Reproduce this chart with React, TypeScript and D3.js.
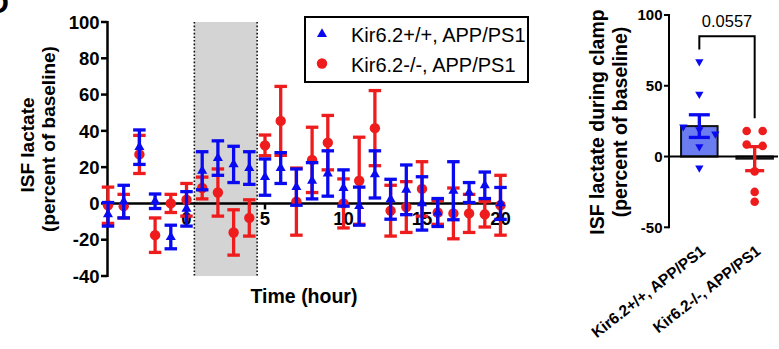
import * as d3 from "d3";

const FONT = "'Liberation Sans', Arial, Helvetica, sans-serif";

// time course (hours relative to clamp start)
const hours = [-5, -4, -3, -2, -1, 0, 1, 2, 3, 4, 5, 6, 7, 8, 9, 10, 11, 12, 13, 14, 15, 16, 17, 18, 19, 20];
const blueMean = [-6, 1, 31, 1.2, -18.5, -3, 18, 25, 21.5, 19.5, 14.5, 19.5, 9, 12.5, 16.5, 8.5, -1.5, 16, 2.3, 7.5, 0, -5, 7, 6, 10, 0];
const blueErr = [6.5, 9, 9.5, 4, 6.5, 9.5, 10.5, 9.5, 10, 9, 10, 8.5, 10, 10, 12.5, 10, 10.5, 13, 11, 13.7, 14.7, 7.7, 16, 5.5, 7.3, 8.8];
const redMean = [-1, -1.5, 27, -17.5, 0, 2, 8.5, 6, -16, -8, 32, 45.5, 1, 24, 33.5, 0, 12.5, 41.5, -4, -2, 8, -5, -5.5, -5.5, -6, -1];
const redErr = [10, 6.5, 10.5, 9.5, 5, 9, 6, 13, 12.5, 10, 5.7, 19, 18.5, 18, 15, 13.5, 24, 20.7, 14, 14, 15, 6.5, 14, 10.5, 7, 16.5];

const yTicksLeft = [-40, -20, 0, 20, 40, 60, 80, 100];
const xTicksLeft = [0, 5, 10, 15, 20];
const clampWindow = [0.5, 4.5];
const groupLabels = ["Kir6.2+/+, APP/PS1", "Kir6.2-/-, APP/PS1"];

// summary during clamp
const groupMeans = [21.5, -1.5];
const groupSems = [8, 8.5];
const bluePoints = [67, 44, 21, 19, 16, 7, -8];
const redPoints = [18, 18, 8.5, 7.5, -10.5, -25, -32];
const yTicksRight = [-50, 0, 50, 100];
const pValue = "0.0557";
const bracketLevels = [75.7, 85, 27]; // left leg end, top, right leg end

const BLUE = "#0a0af0";
const RED = "#ee1c1c";

// spread points with nearly equal values side by side, like a scatter dot plot
function swarm(values: number[], y: (v: number) => number, gap = 9, step = 16) {
  const out: number[] = new Array(values.length).fill(0);
  let start = 0;
  for (let i = 1; i <= values.length; i++) {
    if (i === values.length || Math.abs(y(values[i]) - y(values[i - 1])) >= gap) {
      const n = i - start;
      for (let k = 0; k < n; k++) out[start + k] = (k - (n - 1) / 2) * step;
      start = i;
    }
  }
  return out;
}

function ErrorBar({ x, y0, y1, cap, color, w = 3.3 }: any) {
  return (
    <g stroke={color} strokeWidth={w}>
      <line x1={x} x2={x} y1={y0} y2={y1} />
      <line x1={x - cap / 2} x2={x + cap / 2} y1={y0} y2={y0} />
      <line x1={x - cap / 2} x2={x + cap / 2} y1={y1} y2={y1} />
    </g>
  );
}

export default function App() {
  const W = 779;
  const H = 349;

  // left panel
  const x = d3.scaleLinear().domain([-5, 20]).range([108, 500.5]);
  const y = d3.scaleLinear().domain([-40, 100]).range([276, 22]);
  const tri = d3.symbol(d3.symbolTriangle, 44)()!;
  const triSmall = d3.symbol(d3.symbolTriangle, 30)()!;

  // right panel
  const xb = d3.scaleBand().domain(groupLabels).range([670, 784]).paddingInner(0.34).paddingOuter(0.2);
  const yb = d3.scaleLinear().domain([-50, 100]).range([227.3, 15]);
  const bw = xb.bandwidth();
  const cBlue = xb(groupLabels[0])! + bw / 2;
  const cRed = xb(groupLabels[1])! + bw / 2;
  const blueOff = swarm(bluePoints, yb);
  const redOff = swarm(redPoints, yb);

  return (
    <svg width={W} height={H} style={{ position: "absolute", left: 0, top: 0, background: "#fff" }} fontFamily={FONT}>
      <text x={9} y={13} fontSize={30} fontWeight="bold" textAnchor="end">D</text>

      {/* clamp window */}
      <rect x={x(clampWindow[0])} y={y(100)} width={x(clampWindow[1]) - x(clampWindow[0])} height={y(-40) - y(100)} fill="#d4d4d4" />
      {clampWindow.map((c) => (
        <line key={c} x1={x(c)} x2={x(c)} y1={y(100)} y2={y(-40)} stroke="#111" strokeWidth={1.6} strokeDasharray="1.6 2" />
      ))}

      {/* y axis */}
      <line x1={107.5} x2={107.5} y1={y(100) - 1} y2={y(-40) + 1} stroke="#000" strokeWidth={2.5} />
      {yTicksLeft.map((t) => (
        <g key={t}>
          <line x1={101} x2={107.5} y1={y(t)} y2={y(t)} stroke="#000" strokeWidth={2.5} />
          <text x={99.5} y={y(t)} dy="0.36em" textAnchor="end" fontSize={18.5} fontWeight="bold">{t}</text>
        </g>
      ))}
      <text transform={`translate(27,145) rotate(-90)`} textAnchor="middle" dominantBaseline="central" fontSize={19} fontWeight="bold">ISF lactate</text>
      <text transform={`translate(48,139) rotate(-90)`} textAnchor="middle" dominantBaseline="central" fontSize={19} fontWeight="bold">(percent of baseline)</text>

      {/* x axis on zero line */}
      <line x1={107.5} x2={505} y1={y(0)} y2={y(0)} stroke="#000" strokeWidth={2.5} />
      {xTicksLeft.map((t) => (
        <g key={t}>
          <line x1={x(t)} x2={x(t)} y1={y(0)} y2={y(0) + 6} stroke="#000" strokeWidth={2.5} />
          <text x={x(t)} y={225} textAnchor="middle" fontSize={18.5} fontWeight="bold">{t}</text>
        </g>
      ))}
      <text x={304} y={303} textAnchor="middle" fontSize={19.5} fontWeight="bold">Time (hour)</text>

      {/* red series */}
      {hours.map((h, i) => (
        <g key={"r" + h}>
          <ErrorBar x={x(h)} y0={y(redMean[i] + redErr[i])} y1={y(redMean[i] - redErr[i])} cap={12.5} color={RED} />
          <circle cx={x(h)} cy={y(redMean[i])} r={5.2} fill={RED} />
        </g>
      ))}
      {/* blue series */}
      {hours.map((h, i) => (
        <g key={"b" + h}>
          <ErrorBar x={x(h)} y0={y(blueMean[i] + blueErr[i])} y1={y(blueMean[i] - blueErr[i])} cap={12.5} color={BLUE} />
          <path d={tri} transform={`translate(${x(h)},${y(blueMean[i])})`} fill={BLUE} />
        </g>
      ))}

      {/* legend */}
      <rect x={305} y={17} width={223} height={65} fill="#fff" stroke="#000" strokeWidth={2} />
      <path d={tri} transform="translate(322,34)" fill={BLUE} />
      <circle cx={322} cy={63.5} r={5.2} fill={RED} />
      <text x={351} y={35} dy="0.36em" fontSize={20}>{groupLabels[0]}</text>
      <text x={351} y={64.5} dy="0.36em" fontSize={20}>{groupLabels[1]}</text>

      {/* right panel */}
      <text transform={`translate(597,122) rotate(-90)`} textAnchor="middle" dominantBaseline="central" fontSize={19.5} fontWeight="bold">ISF lactate during clamp</text>
      <text transform={`translate(619.5,122) rotate(-90)`} textAnchor="middle" dominantBaseline="central" fontSize={19.5} fontWeight="bold">(percent of baseline)</text>

      <line x1={669} x2={669} y1={yb(100) - 1} y2={yb(-50) + 1} stroke="#000" strokeWidth={2} />
      {yTicksRight.map((t) => (
        <g key={t}>
          <line x1={664} x2={669} y1={yb(t)} y2={yb(t)} stroke="#000" strokeWidth={2} />
          <text x={662.5} y={yb(t)} dy="0.36em" textAnchor="end" fontSize={15} fontWeight="bold">{t}</text>
        </g>
      ))}

      {/* bars */}
      <rect x={xb(groupLabels[0])} y={yb(groupMeans[0])} width={bw} height={yb(0) - yb(groupMeans[0])} fill="#6b7cf0" stroke="#111" strokeWidth={2} />
      <rect x={xb(groupLabels[1])} y={yb(0)} width={bw} height={yb(groupMeans[1]) - yb(0)} fill="#fff" stroke="#111" strokeWidth={2} />
      <line x1={669} x2={778} y1={yb(0)} y2={yb(0)} stroke="#000" strokeWidth={2} />

      {bluePoints.map((v, i) => (
        <path key={"bp" + i} d={triSmall} transform={`translate(${cBlue + blueOff[i]},${yb(v)}) rotate(180)`} fill={BLUE} />
      ))}
      {redPoints.map((v, i) => (
        <circle key={"rp" + i} cx={cRed + redOff[i]} cy={yb(v)} r={4.3} fill={RED} />
      ))}
      <ErrorBar x={cBlue} y0={yb(groupMeans[0] + groupSems[0])} y1={yb(groupMeans[0] - groupSems[0])} cap={21} color={BLUE} />
      <ErrorBar x={cRed} y0={yb(groupMeans[1] + groupSems[1])} y1={yb(groupMeans[1] - groupSems[1])} cap={19} color={RED} />

      {/* significance bracket */}
      <path d={`M${cBlue},${yb(bracketLevels[0])} V${yb(bracketLevels[1])} H${cRed} V${yb(bracketLevels[2])}`} fill="none" stroke="#000" strokeWidth={2} />
      <text x={(cBlue + cRed) / 2} y={26.5} textAnchor="middle" fontSize={16.5}>{pValue}</text>

      {/* rotated category labels */}
      {groupLabels.map((g) => {
        const cx = xb(g)! + bw / 2;
        return (
          <text key={g} transform={`translate(${cx + 7},253) rotate(-38)`} textAnchor="end" fontSize={15.5} fontWeight="bold">{g}</text>
        );
      })}
    </svg>
  );
}
